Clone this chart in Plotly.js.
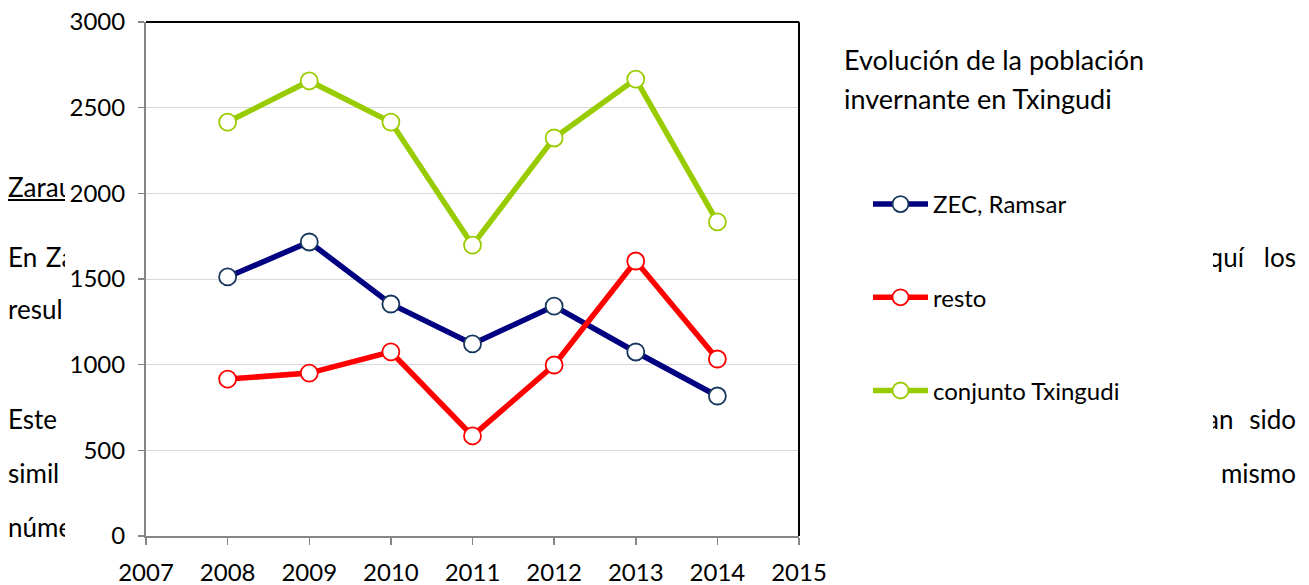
<!DOCTYPE html>
<html>
<head>
<meta charset="utf-8">
<script src="https://cdn.plot.ly/plotly-3.0.1.min.js"></script>
<style>
html,body{margin:0;padding:0;background:#fff;}
#wrap{position:relative;width:1309px;height:585px;overflow:hidden;}
#doc{position:absolute;left:0;top:0;width:1309px;height:585px;z-index:0;font-family:Lato, Carlito, Calibri, sans-serif;font-size:26px;color:#000;}
#doc div{position:absolute;white-space:pre;line-height:1;}
#chart{position:absolute;left:0;top:0;width:1309px;height:585px;z-index:1;}
</style>
</head>
<body>
<div id="wrap">
<div id="doc"></div>
<div id="chart"></div>
</div>
<script>
// ---- data ----
const years = [2008, 2009, 2010, 2011, 2012, 2013, 2014];
const zecRamsar = [1512, 1716, 1354, 1121, 1342, 1074, 817];
const resto = [916, 951, 1075, 584, 998, 1605, 1033];
const conjunto = [2416, 2656, 2416, 1698, 2323, 2667, 1833];
const seriesNames = ["ZEC, Ramsar", "resto", "conjunto Txingudi"];
const titleLines = ["Evolución de la población", "invernante en Txingudi"];
const xTicks = [2007, 2008, 2009, 2010, 2011, 2012, 2013, 2014, 2015];
const yTicks = [0, 500, 1000, 1500, 2000, 2500, 3000];
// background document text fragments, partly hidden by the chart box
const leftFragments = ["Zarau", "En Za", "resul", "Este", "simil", "núme"];
const rightFragments = ["aquí   los", "an sido", "mismo"];

// ---- layout helpers ----
const W = 1309, H = 585;
const L = 146, R = 799, T = 22, B = 536;
const px = x => (x - L) / (R - L);
const py = y => (B - y) / (B - T);
const FONT = "Lato, Carlito, Calibri, 'Open Sans', sans-serif";

// document text behind the chart
const doc = document.getElementById("doc");
const leftY = [188, 258, 310, 420, 474, 528];
leftFragments.forEach((t, i) => {
  const d = document.createElement("div");
  d.textContent = t;
  d.style.left = "8px";
  d.style.top = (leftY[i] - 14) + "px";
  if (i === 0) d.style.textDecoration = "underline";
  if (i === 1) d.style.wordSpacing = "2px";
  doc.appendChild(d);
});
const rightY = [258, 420, 474];
rightFragments.forEach((t, i) => {
  const d = document.createElement("div");
  d.textContent = t;
  d.style.right = (W - 1296) + "px";
  d.style.top = (rightY[i] - 14) + "px";
  if (i === 1) d.style.wordSpacing = "9px";
  doc.appendChild(d);
});

function mk(name, y, lineColor, markerLine, group) {
  return {
    x: years, y: y, name: name, type: "scatter", mode: "lines+markers",
    legendgroup: group,
    line: {color: lineColor, width: 5.5},
    marker: {symbol: "circle", size: 17, color: "#ffffff", line: {color: markerLine, width: 1.8}},
    cliponaxis: false
  };
}

const traces = [
  mk(seriesNames[0], zecRamsar, "#000080", "#17375E", "g1"),
  mk(seriesNames[1], resto, "#FF0000", "#FF0000", "g2"),
  mk(seriesNames[2], conjunto, "#99CC00", "#99CC00", "g3")
];

const ann = [];
ann.push({xref: "paper", yref: "paper", x: px(842), y: py(60), xanchor: "left", yanchor: "middle",
  text: titleLines[0], showarrow: false, font: {family: FONT, size: 27, color: "#000"}});
ann.push({xref: "paper", yref: "paper", x: px(842), y: py(98), xanchor: "left", yanchor: "middle",
  text: titleLines[1], showarrow: false, font: {family: FONT, size: 27, color: "#000"}});

const layout = {
  width: W, height: H,
  margin: {l: L, r: W - R, t: T, b: H - B, pad: 0},
  paper_bgcolor: "rgba(0,0,0,0)", plot_bgcolor: "rgba(0,0,0,0)",
  font: {family: FONT, size: 24, color: "#000"},
  showlegend: true,
  legend: {
    x: px(868), y: py(182), xanchor: "left", yanchor: "top",
    font: {family: FONT, size: 24, color: "#000"},
    itemwidth: 55, tracegroupgap: 59, bgcolor: "rgba(0,0,0,0)"
  },
  xaxis: {
    range: [2007, 2015], tickvals: xTicks, ticktext: xTicks.map(String),
    showline: true, linecolor: "#868686", linewidth: 2,
    ticks: "outside", ticklen: 7, tickcolor: "#868686", tickwidth: 1.5,
    showgrid: false, zeroline: false, ticklabelstandoff: 7,
    tickfont: {family: FONT, size: 24, color: "#000"}
  },
  yaxis: {
    range: [0, 3000], tickvals: yTicks,
    showline: true, linecolor: "#868686", linewidth: 2,
    ticks: "outside", ticklen: 6, tickcolor: "#868686", tickwidth: 1.5,
    showgrid: true, gridcolor: "#D9D9D9", gridwidth: 1, zeroline: false,
    ticklabelstandoff: 8,
    tickfont: {family: FONT, size: 24, color: "#000"}
  },
  shapes: [
    // white chart box covering the document text behind it
    {type: "rect", xref: "paper", yref: "paper", layer: "below",
     x0: px(65), x1: px(1213), y0: py(H + 5), y1: py(-5), line: {width: 0}, fillcolor: "#ffffff"},
    {type: "line", xref: "paper", yref: "paper", x0: 0, x1: 1, y0: 1, y1: 1, line: {color: "#000", width: 2}},
    {type: "line", xref: "paper", yref: "paper", x0: 1, x1: 1, y0: 0, y1: 1, line: {color: "#000", width: 2}}
  ],
  annotations: ann
};

Plotly.newPlot("chart", traces, layout, {displayModeBar: false, staticPlot: true});
</script>
</body>
</html>
